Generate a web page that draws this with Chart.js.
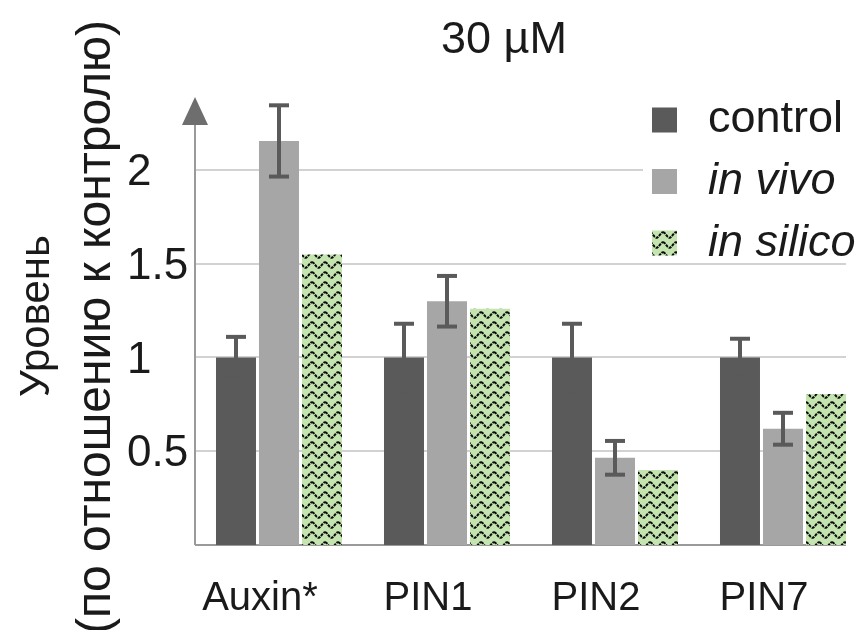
<!DOCTYPE html>
<html lang="ru">
<head>
<meta charset="UTF-8">
<title>30 µM</title>
<script src="https://cdn.jsdelivr.net/npm/chart.js"></script>
<style>
  body { margin: 0; background: #fff; }
  #chart { display: block; }
</style>
</head>
<body>
<canvas id="chart" width="867" height="630"></canvas>
<script>
// ---------- data ----------
const categories = ['Auxin*', 'PIN1', 'PIN2', 'PIN7'];
const seriesNames = ['control', 'in vivo', 'in silico'];
const controlValues = [1.0, 1.0, 1.0, 1.0];
const controlErrors = [0.11, 0.18, 0.18, 0.10];
const inVivoValues = [2.155, 1.30, 0.465, 0.62];
const inVivoErrors = [0.19, 0.135, 0.09, 0.085];
const inSilicoValues = [1.55, 1.26, 0.40, 0.805];
const yTicks = [0.5, 1, 1.5, 2];
const chartTitle = '30 µM';
const yTitle = ['Уровень', '(по отношению к контролю)'];

const FONT = '"Liberation Sans", Arial, sans-serif';
const TEXT = '#1a1a1a';
const DARK = '#5a5a5a';

// green fill with dotted wavy lines for the model series
function wavePattern() {
    const c = document.createElement('canvas');
    c.width = 13;
    c.height = 10;
    const g = c.getContext('2d');
    g.fillStyle = '#c4e4b0';
    g.fillRect(0, 0, c.width, c.height);
    g.strokeStyle = '#0a0a0a';
    g.lineWidth = 2;
    g.setLineDash([3, 1]);
    g.beginPath();
    for (let x = 0; x <= 13; x += 0.5) {
        const y = 5 - 2.8 * Math.cos(2 * Math.PI * x / 13);
        if (x === 0) g.moveTo(x, y); else g.lineTo(x, y);
    }
    g.stroke();
    return g.createPattern(c, 'repeat');
}

function line(ctx, x1, y1, x2, y2) {
    ctx.beginPath();
    ctx.moveTo(x1, y1);
    ctx.lineTo(x2, y2);
    ctx.stroke();
}

function lastBarRight(chart) {
    const meta = chart.getDatasetMeta(chart.data.datasets.length - 1);
    const bar = meta.data[meta.data.length - 1];
    return bar.x + bar.width / 2;
}

// grid lines, x axis and y axis with arrow
const axesPlugin = {
    id: 'axes',
    beforeDatasetsDraw(chart) {
        const { ctx, chartArea: a, scales: { y } } = chart;
        const right = lastBarRight(chart);
        ctx.save();
        ctx.lineWidth = 2;
        ctx.strokeStyle = '#d2d2d2';
        yTicks.forEach(v => {
            const p = Math.round(y.getPixelForValue(v));
            line(ctx, a.left, p, right, p);
        });
        ctx.strokeStyle = '#9a9a9a';
        line(ctx, a.left, a.bottom, right, a.bottom);
        line(ctx, a.left, a.bottom, a.left, a.top + 28);
        ctx.fillStyle = '#6e6e6e';
        ctx.beginPath();
        ctx.moveTo(a.left, a.top + 2);
        ctx.lineTo(a.left - 13, a.top + 30);
        ctx.lineTo(a.left + 13, a.top + 30);
        ctx.closePath();
        ctx.fill();
        ctx.restore();
    }
};

const errorBarsPlugin = {
    id: 'errorBars',
    afterDatasetsDraw(chart) {
        const { ctx, scales: { y } } = chart;
        ctx.save();
        ctx.strokeStyle = DARK;
        ctx.lineWidth = 4;
        chart.data.datasets.forEach((ds, i) => {
            if (!ds.errors) return;
            chart.getDatasetMeta(i).data.forEach((bar, j) => {
                const v = ds.data[j], e = ds.errors[j];
                const top = y.getPixelForValue(v + e);
                const bot = y.getPixelForValue(v - e);
                line(ctx, bar.x, top, bar.x, bot);
                line(ctx, bar.x - 10, top, bar.x + 10, top);
                line(ctx, bar.x - 10, bot, bar.x + 10, bot);
            });
        });
        ctx.restore();
    }
};

// title, rotated y title and the legend in the upper right
const textPlugin = {
    id: 'texts',
    afterDraw(chart) {
        const ctx = chart.ctx;
        ctx.save();
        ctx.fillStyle = TEXT;
        ctx.font = '45px ' + FONT;
        ctx.textAlign = 'center';
        ctx.textBaseline = 'alphabetic';
        ctx.fillText(chartTitle, 504, 53);

        ctx.textBaseline = 'middle';
        [[37, 316, 42], [97, 327, 48]].forEach(([x, yy, size], k) => {
            ctx.save();
            ctx.font = size + 'px ' + FONT;
            ctx.translate(x, yy);
            ctx.rotate(-Math.PI / 2);
            ctx.fillText(yTitle[k], 0, 0);
            ctx.restore();
        });

        ctx.fillStyle = '#fff';
        ctx.fillRect(643, 96, 224, 160);
        ctx.textAlign = 'left';
        chart.data.datasets.forEach((ds, i) => {
            const cy = 120 + i * 61.5;
            ctx.fillStyle = ds.backgroundColor;
            ctx.fillRect(652, cy - 12.5, 25, 25);
            ctx.fillStyle = TEXT;
            ctx.font = (i > 0 ? 'italic ' : '') + '45px ' + FONT;
            ctx.fillText(ds.label, 708, cy);
        });
        ctx.restore();
    }
};

new Chart(document.getElementById('chart'), {
    type: 'bar',
    data: {
        labels: categories,
        datasets: [
            { label: seriesNames[0], data: controlValues, errors: controlErrors, backgroundColor: DARK },
            { label: seriesNames[1], data: inVivoValues, errors: inVivoErrors, backgroundColor: '#a6a6a6' },
            { label: seriesNames[2], data: inSilicoValues, backgroundColor: wavePattern() }
        ]
    },
    options: {
        responsive: false,
        animation: false,
        layout: { padding: { left: 127, top: 95, right: 0, bottom: 0 } },
        datasets: {
            bar: { categoryPercentage: 0.768, barPercentage: 0.93 }
        },
        plugins: {
            legend: { display: false },
            tooltip: { enabled: false },
            title: { display: false }
        },
        scales: {
            x: {
                grid: { display: false, drawTicks: false },
                border: { display: false },
                ticks: {
                    color: TEXT,
                    font: { family: FONT, size: 40 },
                    padding: 30,
                    labelOffset: -19,
                    maxRotation: 0,
                    autoSkip: false
                },
                afterFit(scale) { scale.height = 85; }
            },
            y: {
                min: 0,
                max: 2.4,
                grid: { display: false, drawTicks: false },
                border: { display: false },
                ticks: {
                    color: TEXT,
                    font: { family: FONT, size: 44 },
                    crossAlign: 'far',
                    labelOffset: 3,
                    padding: 0,
                    callback: v => String(v)
                },
                afterBuildTicks(scale) {
                    scale.ticks = yTicks.map(v => ({ value: v }));
                },
                afterFit(scale) { scale.width = 68; }
            }
        }
    },
    plugins: [axesPlugin, errorBarsPlugin, textPlugin]
});
</script>
</body>
</html>
